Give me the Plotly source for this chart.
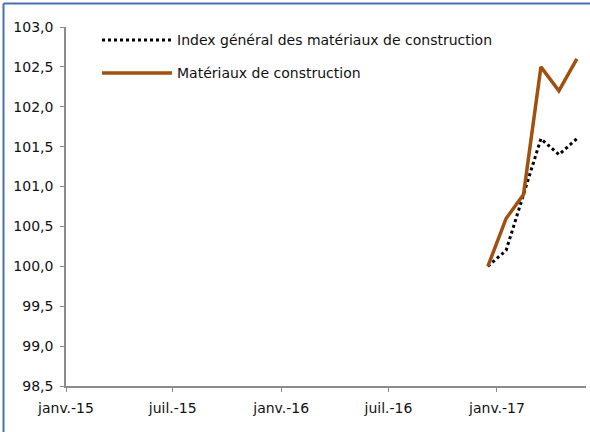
import plotly.graph_objects as go

# monthly points, Dec 2016 -> May 2017
months = ["2016-12-01", "2017-01-01", "2017-02-01",
          "2017-03-01", "2017-04-01", "2017-05-01"]
index_general = [100.0, 100.2, 100.9, 101.6, 101.4, 101.6]
materiaux = [100.0, 100.6, 100.9, 102.5, 102.2, 102.6]

tick_dates = ["2015-01-01", "2015-07-01", "2016-01-01",
              "2016-07-01", "2017-01-01"]
tick_labels = ["janv.-15", "juil.-15", "janv.-16", "juil.-16", "janv.-17"]

name_general = "Index général des matériaux de construction"
name_materiaux = "Matériaux de construction"

FONT = "DejaVu Sans"
TEXT = "#111111"
AXIS_COLOR = "#8c8c8c"
BROWN = "#A0500F"
FRAME = "#4A72A8"
W, H = 590, 432
L, R, T, B = 66, 4, 27, 46


def px_to_paper(x, y):
    pw, ph = W - L - R, H - T - B
    return (x - L) / pw, (H - B - y) / ph


fig = go.Figure()
fig.add_trace(go.Scatter(x=months, y=index_general, name=name_general,
                         mode="lines", xperiod="M1",
                         xperiodalignment="middle",
                         line=dict(color="black", width=3, dash="dot")))
fig.add_trace(go.Scatter(x=months, y=materiaux, name=name_materiaux,
                         mode="lines", xperiod="M1",
                         xperiodalignment="middle",
                         line=dict(color=BROWN, width=3.5)))

# hand-drawn legend (longer samples than plotly's default)
shapes = []
annotations = []
for i, (label, style) in enumerate([
        (name_general, dict(color="black", width=3, dash="dot")),
        (name_materiaux, dict(color=BROWN, width=3.5))]):
    yy = 40 + i * 33
    x0, y0 = px_to_paper(102, yy)
    x1, _ = px_to_paper(172, yy)
    shapes.append(dict(type="line", xref="paper", yref="paper",
                       x0=x0, x1=x1, y0=y0, y1=y0, line=style))
    tx, _ = px_to_paper(175, yy)
    annotations.append(dict(x=tx, y=y0, xref="paper", yref="paper",
                            text=label, showarrow=False, xanchor="left",
                            yanchor="middle",
                            font=dict(family=FONT, size=14, color=TEXT)))

# outer frame: only its top and left edges are inside the crop
fl, ft = px_to_paper(3.5, 3.5)
fr, fb = px_to_paper(W + 5, H + 5)
shapes.append(dict(type="line", xref="paper", yref="paper",
                   x0=fl, x1=fr, y0=ft, y1=ft,
                   line=dict(color=FRAME, width=2)))
shapes.append(dict(type="line", xref="paper", yref="paper",
                   x0=fl, x1=fl, y0=ft, y1=fb,
                   line=dict(color=FRAME, width=2)))

fig.update_layout(
    width=W, height=H,
    margin=dict(l=L, r=R, t=T, b=B),
    paper_bgcolor="white", plot_bgcolor="white",
    showlegend=False,
    separators=", ",
    font=dict(family=FONT, size=14, color=TEXT),
    shapes=shapes, annotations=annotations,
    xaxis=dict(type="date", range=["2015-01-01", "2017-06-01"],
               tickvals=tick_dates, ticktext=tick_labels,
               showgrid=False, zeroline=False,
               showline=True, linecolor=AXIS_COLOR, linewidth=1.5,
               ticks="outside", ticklen=4, tickcolor=AXIS_COLOR,
               ticklabelstandoff=4,
               tickfont=dict(family=FONT, size=14, color=TEXT)),
    yaxis=dict(range=[98.5, 103.0], dtick=0.5, tick0=98.5,
               tickformat=".1f",
               showgrid=False, zeroline=False,
               showline=True, linecolor=AXIS_COLOR, linewidth=1.5,
               ticks="outside", ticklen=4, tickcolor=AXIS_COLOR,
               ticklabelstandoff=4,
               tickfont=dict(family=FONT, size=14, color=TEXT)),
)

# drop the browser's default body margin so the chart sits at (0, 0)
fig.write_html("out.html", config={"displayModeBar": False},
               post_script="document.body.style.margin='0';")
